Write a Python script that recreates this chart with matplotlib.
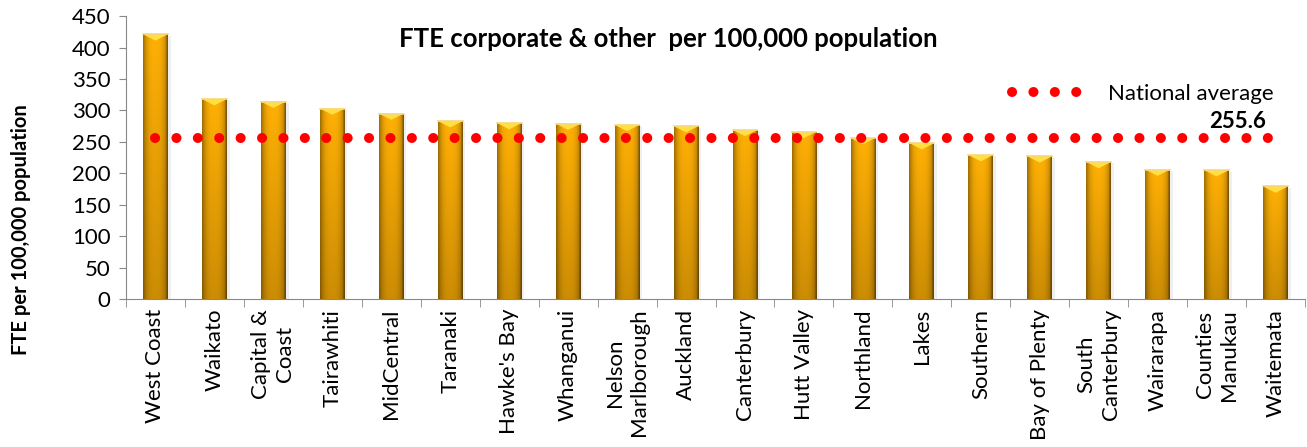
import numpy as np
import matplotlib
matplotlib.use("Agg")
import matplotlib.pyplot as plt
from matplotlib.patches import Polygon
from matplotlib.lines import Line2D
import matplotlib.patheffects as pe

plt.rcParams['font.family'] = ['Lato', 'DejaVu Sans']

# FTE corporate & other per 100,000 population, by DHB
dhbs = ["West Coast", "Waikato", "Capital &\nCoast", "Tairawhiti", "MidCentral",
        "Taranaki", "Hawke's Bay", "Whanganui", "Nelson\nMarlborough", "Auckland",
        "Canterbury", "Hutt Valley", "Northland", "Lakes", "Southern",
        "Bay of Plenty", "South\nCanterbury", "Wairarapa", "Counties\nManukau", "Waitemata"]
fte = [421, 318, 314, 303, 295, 283, 280, 279, 277, 275,
       269, 266, 256, 248, 229, 227, 218, 206, 205, 179]
national_avg = 255.6
yticks = list(range(0, 451, 50))

fig = plt.figure(figsize=(13.07, 4.47), dpi=100)
ax = fig.add_axes([0.0964, 0.331, 0.9021, 0.633])

x = np.arange(len(dhbs))
width = 0.42

# base bars (with soft shadow), then a shaded gold image clipped onto each
bars = ax.bar(x, fte, width=width, color='#F2A400', zorder=2,
              path_effects=[pe.SimplePatchShadow(offset=(2, -1), shadow_rgbFace='#999999', alpha=0.15),
                            pe.Normal()])

nx, ny = 60, 100
u = np.linspace(-1, 1, nx)
hprof = 1.0 - 0.38 * np.abs(u) ** 3
hprof[-4:] *= 0.78
v = np.linspace(0, 1, ny)[:, None]
vprof = 0.80 + 0.20 * v
base = np.array([1.0, 0.69, 0.02])
img = np.clip(base[None, None, :] * (hprof[None, :, None] * vprof[:, :, None]), 0, 1)

for b, val in zip(bars, fte):
    x0 = b.get_x()
    im = ax.imshow(img, extent=(x0, x0 + width, 0, val), origin='lower',
                   aspect='auto', zorder=3, interpolation='bilinear')
    im.set_clip_path(b)
    # bevelled top cap
    cap = Polygon([(x0, val), (x0 + width, val), (x0 + width / 2, val - 10)],
                  closed=True, facecolor='#FFE040', edgecolor='none', zorder=4)
    ax.add_patch(cap)
    ax.plot([x0, x0 + width], [val, val], color='#F8D77A', lw=1.2, zorder=5)

# national average as a dotted red line
ax.plot([x[0], x[-1]], [national_avg, national_avg], color='#FF0000',
        linewidth=7.2, linestyle=(0, (0.01, 2.13)), dash_capstyle='round', zorder=6)
ax.annotate(f"{national_avg:.1f}", xy=(x[-1], national_avg), xytext=(-38, 17),
            textcoords='offset pixels', ha='center', va='center',
            fontsize=16, fontweight='bold', color='black')

handle = Line2D([0], [0], color='#FF0000', linewidth=7.2,
                linestyle=(0, (0.01, 2.13)), dash_capstyle='round')
ax.legend([handle], ["National average"], loc='upper right', bbox_to_anchor=(0.99, 0.83),
          frameon=False, fontsize=16, handlelength=3.4, handletextpad=0.9)

ax.set_title("FTE corporate & other  per 100,000 population", fontsize=18.5,
             fontweight='bold', x=0.46, y=0.86)

ax.set_xlim(-0.5, len(dhbs) - 0.5)
ax.set_ylim(0, 450)
ax.set_yticks(yticks)
ax.tick_params(axis='y', labelsize=16, length=5, color='#888888', pad=6)

ax.set_xticks(x)
ax.set_xticklabels(dhbs, rotation=90, fontsize=16, linespacing=1.25)
ax.tick_params(axis='x', length=0, pad=7)
ax.set_xticks(np.arange(-0.5, len(dhbs)), minor=True)
ax.tick_params(axis='x', which='minor', length=6, color='#888888')

for s in ['top', 'right']:
    ax.spines[s].set_visible(False)
for s in ['left', 'bottom']:
    ax.spines[s].set_color('#888888')

fig.text(0.016, 0.487, "FTE per 100,000 population", rotation=90,
         ha='center', va='center', fontsize=14.5, fontweight='bold')

fig.savefig("out.png", dpi=100)
